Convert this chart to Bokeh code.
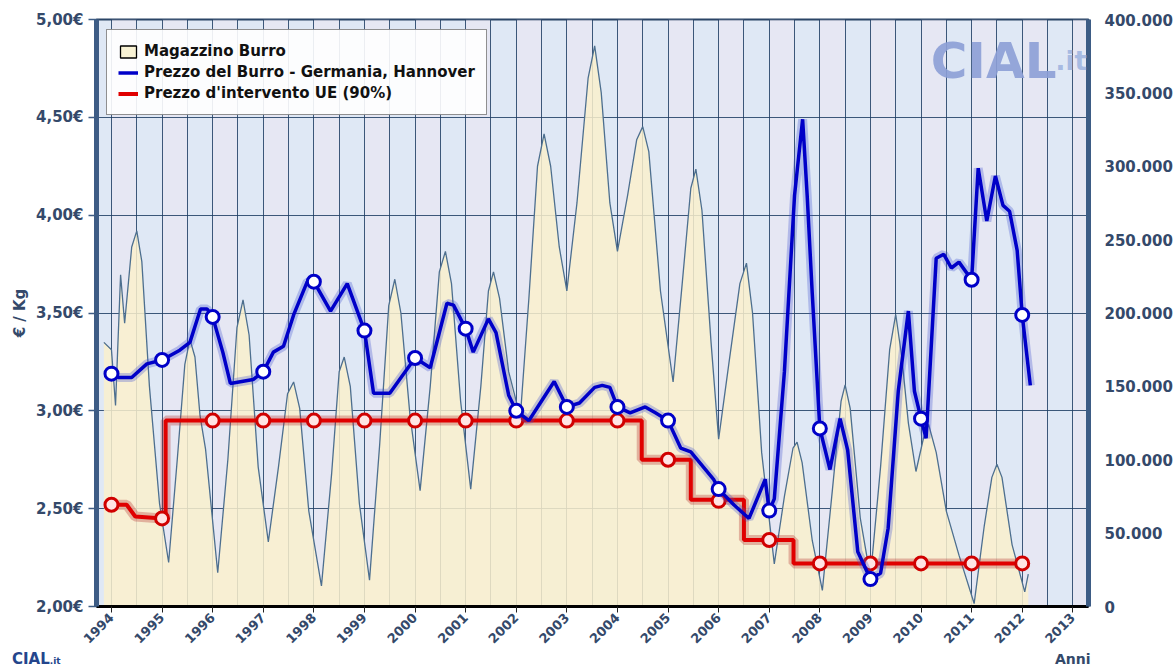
import math
from bokeh.plotting import figure
from bokeh.layouts import column
from bokeh.models import Range1d, LinearAxis, FixedTicker, Legend, LegendItem, Label, Div
from bokeh.embed import file_html
from bokeh.resources import INLINE

# ---------------- data ----------------
years = list(range(1994, 2014))

# Magazzino Burro (tonnellate, asse destro)
stock_t = [1993.85, 1994.00, 1994.08, 1994.18, 1994.26, 1994.40, 1994.50, 1994.60, 1994.75, 1994.95,
           1995.13, 1995.30, 1995.45, 1995.55, 1995.65, 1995.75, 1995.86, 1996.10, 1996.30, 1996.48,
           1996.60, 1996.72, 1996.90, 1997.10, 1997.30, 1997.48, 1997.60, 1997.72, 1997.90, 1998.15,
           1998.35, 1998.50, 1998.60, 1998.72, 1998.90, 1999.10, 1999.30, 1999.48, 1999.60, 1999.72,
           1999.90, 2000.10, 2000.30, 2000.48, 2000.60, 2000.72, 2000.90, 2001.10, 2001.30, 2001.45,
           2001.55, 2001.67, 2001.85, 2002.08, 2002.25, 2002.42, 2002.55, 2002.68, 2002.85, 2003.00,
           2003.20, 2003.42, 2003.55, 2003.68, 2003.85, 2004.00, 2004.20, 2004.38, 2004.50, 2004.62,
           2004.85, 2005.10, 2005.28, 2005.45, 2005.55, 2005.67, 2005.85, 2006.00, 2006.20, 2006.42,
           2006.55, 2006.67, 2006.85, 2007.10, 2007.30, 2007.47, 2007.55, 2007.65, 2007.85, 2008.05,
           2008.25, 2008.42, 2008.50, 2008.60, 2008.80, 2009.00, 2009.20, 2009.38, 2009.50, 2009.62,
           2009.75, 2009.90, 2010.05, 2010.15, 2010.30, 2010.50, 2010.75, 2011.05, 2011.25, 2011.40,
           2011.50, 2011.60, 2011.80, 2012.05, 2012.12]
stock_tons = [180000, 175000, 137000, 226000, 193000, 245000, 256000, 235000, 150000, 70000,
              30000, 100000, 165000, 182000, 170000, 130000, 107000, 23000, 100000, 190000,
              209000, 185000, 95000, 44000, 95000, 145000, 153000, 135000, 65000, 14000,
              90000, 160000, 170000, 150000, 70000, 18000, 110000, 205000, 223000, 200000,
              130000, 79000, 150000, 228000, 242000, 220000, 140000, 80000, 150000, 215000,
              228000, 210000, 160000, 129000, 210000, 300000, 322000, 300000, 245000, 215000,
              275000, 360000, 382000, 350000, 275000, 242000, 280000, 318000, 327000, 310000,
              215000, 153000, 220000, 285000, 298000, 270000, 180000, 114000, 165000, 220000,
              234000, 200000, 105000, 29000, 75000, 108000, 112000, 98000, 45000, 11000,
              80000, 140000, 151000, 135000, 60000, 20000, 95000, 175000, 199000, 170000,
              125000, 92000, 115000, 124000, 105000, 65000, 35000, 2000, 55000, 88000,
              97000, 88000, 42000, 10000, 22000]

# Prezzo del Burro - Germania, Hannover (EUR/kg)
price_t = [1994.00, 1994.15, 1994.40, 1994.70, 1995.00, 1995.35, 1995.55, 1995.76, 1995.89, 1996.00,
           1996.20, 1996.35, 1996.80, 1997.00, 1997.20, 1997.40, 1997.60, 1997.87, 1998.00, 1998.33,
           1998.66, 1999.00, 1999.18, 1999.50, 2000.00, 2000.30, 2000.63, 2000.76, 2001.00, 2001.15,
           2001.45, 2001.60, 2001.85, 2002.00, 2002.25, 2002.50, 2002.75, 2003.00, 2003.25, 2003.55,
           2003.70, 2003.85, 2004.00, 2004.25, 2004.55, 2004.75, 2005.00, 2005.25, 2005.45, 2005.90,
           2006.00, 2006.30, 2006.60, 2006.92, 2007.00, 2007.10, 2007.30, 2007.50, 2007.66, 2007.75,
           2007.85, 2008.00, 2008.20, 2008.40, 2008.55, 2008.75, 2009.00, 2009.20, 2009.35, 2009.55,
           2009.75, 2009.87, 2010.00, 2010.10, 2010.30, 2010.45, 2010.60, 2010.75, 2011.00, 2011.13,
           2011.30, 2011.47, 2011.62, 2011.75, 2011.90, 2012.00, 2012.16]
price_v = [3.19, 3.17, 3.17, 3.24, 3.26, 3.31, 3.35, 3.52, 3.52, 3.48,
           3.30, 3.14, 3.16, 3.20, 3.30, 3.33, 3.49, 3.66, 3.66, 3.51,
           3.65, 3.41, 3.09, 3.09, 3.27, 3.22, 3.55, 3.54, 3.42, 3.30,
           3.47, 3.40, 3.08, 3.00, 2.95, 3.05, 3.15, 3.02, 3.04, 3.12,
           3.13, 3.12, 3.02, 2.99, 3.02, 2.99, 2.95, 2.81, 2.79, 2.65,
           2.60, 2.52, 2.45, 2.65, 2.49, 2.55, 3.20, 4.10, 4.49, 4.10,
           3.60, 2.91, 2.70, 2.96, 2.80, 2.28, 2.14, 2.17, 2.40, 3.10,
           3.51, 3.10, 2.96, 2.86, 3.78, 3.80, 3.73, 3.76, 3.67, 4.24,
           3.97, 4.20, 4.05, 4.02, 3.82, 3.49, 3.13]
marker_years = list(range(1994, 2013))

# Prezzo d'intervento UE (90%) (EUR/kg)
interv_t = [1994.00, 1994.30, 1994.47, 1995.00, 1995.07, 1995.07, 2004.48, 2004.48,
            2005.45, 2005.45, 2006.50, 2006.50, 2007.48, 2007.48, 2012.00]
interv_v = [2.52, 2.52, 2.46, 2.45, 2.45, 2.95, 2.95, 2.75,
            2.75, 2.545, 2.545, 2.34, 2.34, 2.22, 2.22]
interv_marker_v = [2.52, 2.45, 2.95, 2.95, 2.95, 2.95, 2.95, 2.95, 2.95, 2.95, 2.95,
                   2.75, 2.54, 2.34, 2.22, 2.22, 2.22, 2.22, 2.22]

left_ticks = [2.0, 2.5, 3.0, 3.5, 4.0, 4.5, 5.0]
right_ticks = [0, 50000, 100000, 150000, 200000, 250000, 300000, 350000, 400000]

# ---------------- styling ----------------
FONT = "DejaVu Sans"
AXC = "#34496a"
AXLINE = "#3d5c85"
NAN = float("nan")

p = figure(width=1176, height=653, x_range=Range1d(1993.704, 2013.31), y_range=Range1d(2.0, 5.0),
           output_backend="svg", toolbar_location=None,
           min_border_left=96, min_border_right=88, min_border_top=19, min_border_bottom=47)
p.extra_y_ranges = {"stock": Range1d(0, 400000)}
p.background_fill_color = "#dfe8f5"
p.border_fill_color = "white"
p.outline_line_color = "#2a4466"
p.outline_line_width = 2

# grids
p.xgrid.ticker = FixedTicker(ticks=[1994 + 0.5 * i for i in range(39)])
p.xgrid.grid_line_color = "#1f3d63"
p.xgrid.grid_line_alpha = 0.85
p.xgrid.band_fill_color = "#efe6f0"
p.xgrid.band_fill_alpha = 0.4
p.ygrid.ticker = FixedTicker(ticks=left_ticks)
p.ygrid.grid_line_color = "#1f3d63"
p.ygrid.grid_line_alpha = 0.85

# stock area
p.varea(x=stock_t, y1=[0] * len(stock_t), y2=stock_tons, y_range_name="stock",
        fill_color="#faf0cc", fill_alpha=0.85)
p.line(stock_t, stock_tons, y_range_name="stock", line_color="#4d6f8f", line_width=1.3)

# intervention price
p.line(interv_t, interv_v, line_color="#b02020", line_alpha=0.3, line_width=10)
red = p.line(interv_t, interv_v, line_color="#e00000", line_width=4)
p.scatter(marker_years, interv_marker_v, size=13, marker="circle",
          fill_color="#ffe4e4", line_color="#d00000", line_width=3)

# butter price
p.line(price_t, price_v, line_color="#4050d0", line_alpha=0.3, line_width=9)
blue = p.line(price_t, price_v, line_color="#0000c8", line_width=3.5)
lookup = dict(zip(price_t, price_v))
p.scatter(marker_years, [lookup[float(y)] for y in marker_years], size=13, marker="circle",
          fill_color="white", line_color="#0000c8", line_width=3)

# legend-only square (no visible geometry)
sq = p.quad(left=[NAN], right=[NAN], top=[NAN], bottom=[NAN],
            fill_color="#f8f2d4", line_color="black", line_width=1.3)

legend = Legend(items=[LegendItem(label="Magazzino Burro", renderers=[sq]),
                       LegendItem(label="Prezzo del Burro - Germania, Hannover", renderers=[blue]),
                       LegendItem(label="Prezzo d'intervento UE (90%)", renderers=[red])],
                location="top_left", margin=10, padding=11, spacing=1,
                label_height=20, glyph_height=15, glyph_width=20, label_standoff=6,
                label_text_font=FONT, label_text_font_style="bold", label_text_font_size="15px",
                label_text_color="#111111",
                background_fill_color="white", background_fill_alpha=0.9,
                border_line_color="#222222", border_line_width=1.5)
p.add_layout(legend)

# axes
xa = p.xaxis[0]
xa.ticker = FixedTicker(ticks=years)
xa.major_label_overrides = {y: str(y) for y in years}
xa.major_label_orientation = math.pi / 4
xa.major_label_standoff = 3
xa.major_label_text_font = FONT
xa.major_label_text_font_style = "bold"
xa.major_label_text_font_size = "13px"
xa.major_label_text_color = AXC
xa.axis_line_color = "black"
xa.axis_line_width = 3
xa.major_tick_line_color = "#222222"
xa.major_tick_out = 6
xa.major_tick_in = 0
xa.minor_tick_line_color = None

ya = p.yaxis[0]
ya.ticker = FixedTicker(ticks=left_ticks)
ya.major_label_overrides = {t: ("%.2f" % t).replace(".", ",") + "€" for t in left_ticks}
ya.major_label_text_font = FONT
ya.major_label_text_font_style = "bold"
ya.major_label_text_font_size = "15px"
ya.major_label_text_color = AXC
ya.axis_label = "€ / Kg"
ya.axis_label_text_font = FONT
ya.axis_label_text_font_style = "bold"
ya.axis_label_text_font_size = "15px"
ya.axis_label_text_color = AXC
ya.axis_label_standoff = 4
ya.axis_line_color = AXLINE
ya.axis_line_width = 5
ya.major_tick_line_color = AXLINE
ya.major_tick_line_width = 1.5
ya.major_tick_out = 8
ya.major_tick_in = 0
ya.minor_tick_line_color = None

ra = LinearAxis(y_range_name="stock", ticker=FixedTicker(ticks=right_ticks))
ra.major_label_overrides = {t: ("{:,}".format(t)).replace(",", ".") for t in right_ticks}
ra.major_label_text_font = FONT
ra.major_label_text_font_style = "bold"
ra.major_label_text_font_size = "15px"
ra.major_label_text_color = AXC
ra.major_label_standoff = 10
ra.axis_line_color = AXLINE
ra.axis_line_width = 5
ra.major_tick_line_color = None
ra.minor_tick_line_color = None
p.add_layout(ra, "right")

# watermark inside the frame
p.add_layout(Label(x=2010.19, y=4.79, text="CIAL", text_align="left", text_baseline="alphabetic",
                   text_font=FONT, text_font_style="bold", text_font_size="50px",
                   text_color="#8c9fd6", text_alpha=0.9))
p.add_layout(Label(x=2012.66, y=4.79, text=".it", text_align="left", text_baseline="alphabetic",
                   text_font=FONT, text_font_style="bold", text_font_size="26px",
                   text_color="#9fb4e0", text_alpha=0.9))

# footer: logo (left) and axis name (right)
footer = Div(width=1176, height=18, text=(
    '<div style="position:relative;width:1176px;height:18px;font-family:\'DejaVu Sans\';font-weight:bold;">'
    '<span style="position:absolute;left:7px;top:-6px;font-size:15px;line-height:15px;color:#24458c;">'
    'CIAL<span style="font-size:9px;">.it</span></span>'
    '<span style="position:absolute;left:1050px;top:-6px;font-size:14px;line-height:15px;color:#34496a;">'
    'Anni</span></div>'))

layout = column(p, footer, spacing=0)
open("out.html", "w").write(file_html(layout, INLINE))
